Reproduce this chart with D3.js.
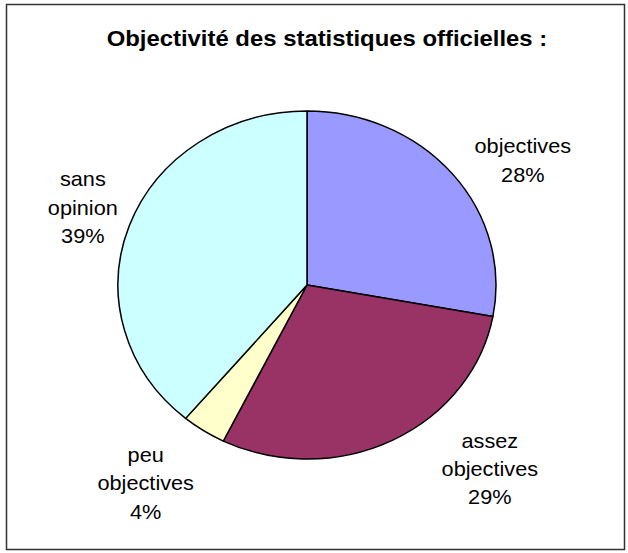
<!DOCTYPE html>
<html>
<head>
<meta charset="utf-8">
<script src="https://cdn.jsdelivr.net/npm/d3@7"></script>
<style>
	body { margin: 0; background: #fff; }
	text { font-family: "Liberation Sans", Arial, sans-serif; fill: #000; }
</style>
</head>
<body>
<div id="chart"></div>
<script>
// data
var categories = ["objectives", "assez objectives", "peu objectives", "sans opinion"];
var labelLines = [["objectives"], ["assez", "objectives"], ["peu", "objectives"], ["sans", "opinion"]];
var values = [27.9, 29.4, 3.8, 38.9];
var colors = ["#9999FF", "#993366", "#FFFFCC", "#CCFFFF"];
var title = "Objectivité des statistiques officielles :";

// layout
var width = 628, height = 553;
var stretchX = 189 / 174;       // the original picture is slightly wider than tall
var radius = 174;
var centerX = 307 / stretchX, centerY = 285;
var labelRadius = 226;
var lineHeight = 28.5;
// small nudges so each label sits where the original put it
var labelNudge = [[25, 20], [67, -18], [-25, 9], [6, 0]];

function drawChart() {
	try {
		var svg = d3.select("#chart").append("svg")
			.attr("width", width).attr("height", height);

		svg.append("rect").attr("x", 6.5).attr("y", 4.5)
			.attr("width", 618).attr("height", 545)
			.attr("fill", "#fff").attr("stroke", "#333").attr("stroke-width", 1.5);

		var g = svg.append("g").attr("transform", "scale(" + stretchX + ",1)");

		g.append("text").attr("x", 301).attr("y", 46)
			.attr("text-anchor", "middle").attr("font-weight", "bold")
			.attr("font-size", 22).text(title);

		var pie = d3.pie().sort(null).value(function(d) { return d; });
		var arcs = pie(values);
		var arc = d3.arc().innerRadius(0).outerRadius(radius);
		var labelArc = d3.arc().innerRadius(labelRadius).outerRadius(labelRadius);

		var pieG = g.append("g").attr("transform", "translate(" + centerX + "," + centerY + ")");

		pieG.selectAll("path").data(arcs).enter().append("path")
			.attr("d", arc)
			.attr("fill", function(d, i) { return colors[i]; })
			.attr("stroke", "#000").attr("stroke-width", 1.4)
			.attr("stroke-linejoin", "round");

		arcs.forEach(function(d, i) {
			var c = labelArc.centroid(d);
			var x = c[0] + labelNudge[i][0];
			var y = c[1] + labelNudge[i][1];
			var lines = labelLines[i].concat([Math.round(values[i]) + "%"]);
			var y0 = y - (lines.length - 1) * lineHeight / 2 + 7;
			var t = pieG.append("text").attr("text-anchor", "middle").attr("font-size", 20);
			lines.forEach(function(line, j) {
				t.append("tspan").attr("x", x).attr("y", y0 + j * lineHeight).text(line);
			});
		});
	} catch (error) {
		throw "Function :: drawChart Error: " + error;
	}
}

drawChart();
</script>
</body>
</html>
